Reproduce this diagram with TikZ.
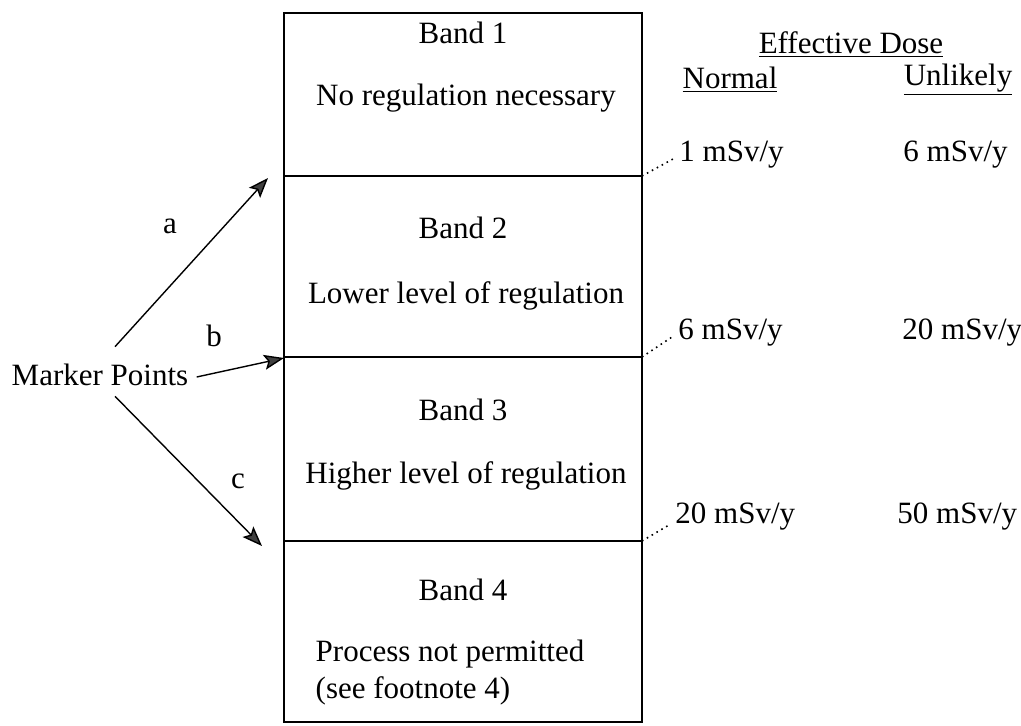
\documentclass[tikz,border=0pt]{standalone}
\usepackage{fontspec}
\setmainfont{Liberation Serif}
\usepackage{xcolor}
\usetikzlibrary{arrows.meta}
\definecolor{tipgray}{rgb}{0.25,0.25,0.25}

\begin{document}
\begin{tikzpicture}[x=0.5pt,y=-0.5pt,
  font=\fontsize{15.5}{18.5}\selectfont,
  txt/.style={inner sep=0pt},
  band/.style={line width=0.9pt},
  markarrow/.style={->,>={Stealth[length=10pt,width=7.5pt,inset=2pt,fill=tipgray]},line width=0.7pt},
  lead/.style={dotted,line width=0.8pt}]
\useasboundingbox (0,0) rectangle (1021,726);
\draw[band] (284,13) rectangle (642,722);
\draw[band] (284,176) -- (642,176);
\draw[band] (284,357) -- (642,357);
\draw[band] (284,541) -- (642,541);
\node[txt] (b1) at (463,33) {Band 1};
\node[txt] (r1) at (466,98) {No regulation necessary};
\node[txt] (b2) at (463,228) {Band 2};
\node[txt] (r2) at (466,296) {Lower level of regulation};
\node[txt] (b3) at (463,410) {Band 3};
\node[txt] (r3) at (466,476) {Higher level of regulation};
\node[txt] (b4) at (463,590) {Band 4};
\node[txt, align=left] (r4) at (450,673) {Process not permitted\\(see footnote 4)};
\node[txt] (ed) at (851,45) {\underline{Effective Dose}};
\node[txt] (nor) at (730,80) {\underline{Normal}};
\node[txt] (unl) at (958,80) {\underline{Unlikely}};
\node[txt, anchor=west] (n1) at (679,155) {1 mSv/y};
\node[txt, anchor=west] (u1) at (903,155) {6 mSv/y};
\node[txt, anchor=west] (n2) at (678,333) {6 mSv/y};
\node[txt, anchor=west] (u2) at (902,333) {20 mSv/y};
\node[txt, anchor=west] (n3) at (675,517) {20 mSv/y};
\node[txt, anchor=west] (u3) at (897,517) {50 mSv/y};
\coordinate (c1) at (642,176);
\coordinate (c2) at (642,357);
\coordinate (c3) at (642,541);
\draw[lead] (c1) -- ([xshift=-3pt,yshift=-2pt]n1.west);
\draw[lead] (c2) -- ([xshift=-3pt,yshift=-2pt]n2.west);
\draw[lead] (c3) -- ([xshift=-3pt,yshift=-4pt]n3.west);
\node[txt] (mp) at (100,375) {Marker Points};
\coordinate (ta) at (268,178);
\coordinate (tb) at (284,358);
\coordinate (tc) at (262,546);
\draw[markarrow] ([xshift=7.5pt,yshift=8.5pt]mp.north) -- (ta);
\draw[markarrow] ([xshift=4pt,yshift=-1pt]mp.east) -- (tb);
\draw[markarrow] ([xshift=7.5pt,yshift=-5pt]mp.south) -- (tc);
\node[txt] (la) at (170,226) {a};
\node[txt] (lb) at (214,336) {b};
\node[txt] (lc) at (238,481) {c};
\end{tikzpicture}
\end{document}
